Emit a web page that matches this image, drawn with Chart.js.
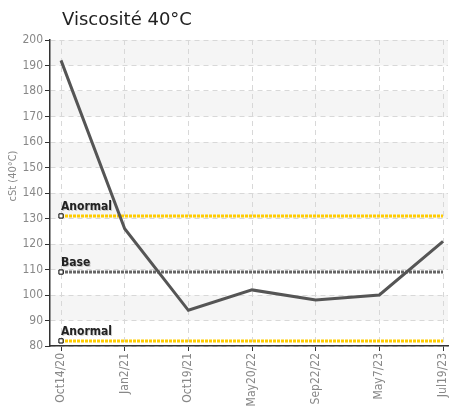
<!DOCTYPE html>
<html><head><meta charset="utf-8">
<script src="https://cdn.jsdelivr.net/npm/chart.js@4/dist/chart.umd.min.js"></script>
<style>html,body{margin:0;padding:0;background:#fff}canvas{display:block}</style>
</head><body>
<canvas id="c" width="453" height="417"></canvas>
<script>
const title = "Viscosité 40°C";
const yTitle = "cSt (40°C)";
const categories = ["Oct14/20","Jan2/21","Oct19/21","May20/22","Sep22/22","May7/23","Jul19/23"];
const viscosity = [192, 126, 94, 102, 98, 100, 121];
const thresholdNames = ["Anormal", "Base", "Anormal"];
const thresholdValues = [131, 109, 82];
const thresholdColors = ["#ffcc00", "#666666", "#ffcc00"];
const yTicks = [80,90,100,110,120,130,140,150,160,170,180,190,200];

const NARROW = "'Liberation Sans Narrow','DejaVu Sans Condensed',sans-serif";

const thresholdSets = thresholdValues.map((v, k) => ({
  label: thresholdNames[k],
  data: categories.map((_, i) => ({x: i, y: v})),
  borderColor: thresholdColors[k],
  borderWidth: 3,
  borderDash: [3, 1],
  pointStyle: 'rect',
  pointRadius: categories.map((_, i) => i === 0 ? 3 : 0),
  pointBackgroundColor: '#fff',
  pointBorderColor: '#000',
  pointBorderWidth: 1,
  order: 2
}));

const bands = {
  id: 'bands',
  beforeDraw(chart) {
    const {ctx, chartArea: a, scales: {y}} = chart;
    ctx.save();
    ctx.fillStyle = '#f5f5f5';
    for (let i = 0; i < yTicks.length - 1; i++) {
      if ((yTicks.length - 2 - i) % 2 === 0) {
        const top = y.getPixelForValue(yTicks[i+1]);
        const bot = y.getPixelForValue(yTicks[i]);
        ctx.fillRect(a.left, top, a.right - a.left, bot - top);
      }
    }
    ctx.restore();
  },
  afterDraw(chart) {
    const {ctx, scales: {x, y}} = chart;
    ctx.save();
    ctx.fillStyle = '#222';
    ctx.font = "18px 'DejaVu Sans', sans-serif";
    ctx.textBaseline = 'alphabetic';
    ctx.fillText(title, 62, 25);
    ctx.font = "bold 12px " + NARROW;
    thresholdValues.forEach((v, k) => {
      const px = x.getPixelForValue(0);
      const py = y.getPixelForValue(v);
      ctx.fillStyle = 'rgba(0,0,0,0.18)';
      ctx.fillText(thresholdNames[k], px + 1, py - 5);
      ctx.fillStyle = '#222';
      ctx.fillText(thresholdNames[k], px, py - 6);
    });
    ctx.translate(13, 176);
    ctx.rotate(-Math.PI / 2);
    ctx.fillStyle = '#888';
    ctx.font = "11px " + NARROW;
    ctx.textAlign = 'center';
    ctx.textBaseline = 'middle';
    ctx.fillText(yTitle, 0, 0);
    ctx.restore();
  }
};

new Chart(document.getElementById('c'), {
  type: 'line',
  data: {
    datasets: [{
      label: 'Viscosité',
      data: viscosity.map((v, i) => ({x: i, y: v})),
      borderColor: '#555',
      borderWidth: 3,
      pointRadius: 0,
      tension: 0,
      order: 1
    }, ...thresholdSets]
  },
  options: {
    responsive: false,
    animation: false,
    layout: {padding: {top: 40, right: 1, left: 0, bottom: 0}},
    plugins: {legend: {display: false}, tooltip: {enabled: false}, title: {display: false}},
    scales: {
      x: {
        type: 'linear',
        min: -0.173,
        max: 6.078,
        afterBuildTicks: s => { s.ticks = categories.map((_, i) => ({value: i})); },
        afterFit: s => { s.height = 71; s.paddingLeft = 0; s.paddingRight = 0; },
        ticks: {
          autoSkip: false,
          maxRotation: 90, minRotation: 90,
          color: '#888',
          font: {family: NARROW, size: 12},
          padding: 2,
          callback: v => categories[v]
        },
        grid: {color: '#d8d8d8', tickColor: '#333', tickBorderDash: [], tickLength: 5, drawTicks: true},
        border: {display: true, color: '#333', width: 1.5, dash: [5, 4]}
      },
      y: {
        min: 80, max: 200,
        afterBuildTicks: s => { s.ticks = yTicks.map(v => ({value: v})); },
        afterFit: s => { s.width = 50; s.paddingTop = 0; s.paddingBottom = 0; },
        ticks: {color: '#888', font: {family: NARROW, size: 12}, padding: 2},
        grid: {color: '#d8d8d8', tickColor: '#333', tickBorderDash: [], tickLength: 5},
        border: {display: true, color: '#333', width: 1.5, dash: [5, 4]}
      }
    }
  },
  plugins: [bands]
});
</script>
</body></html>
